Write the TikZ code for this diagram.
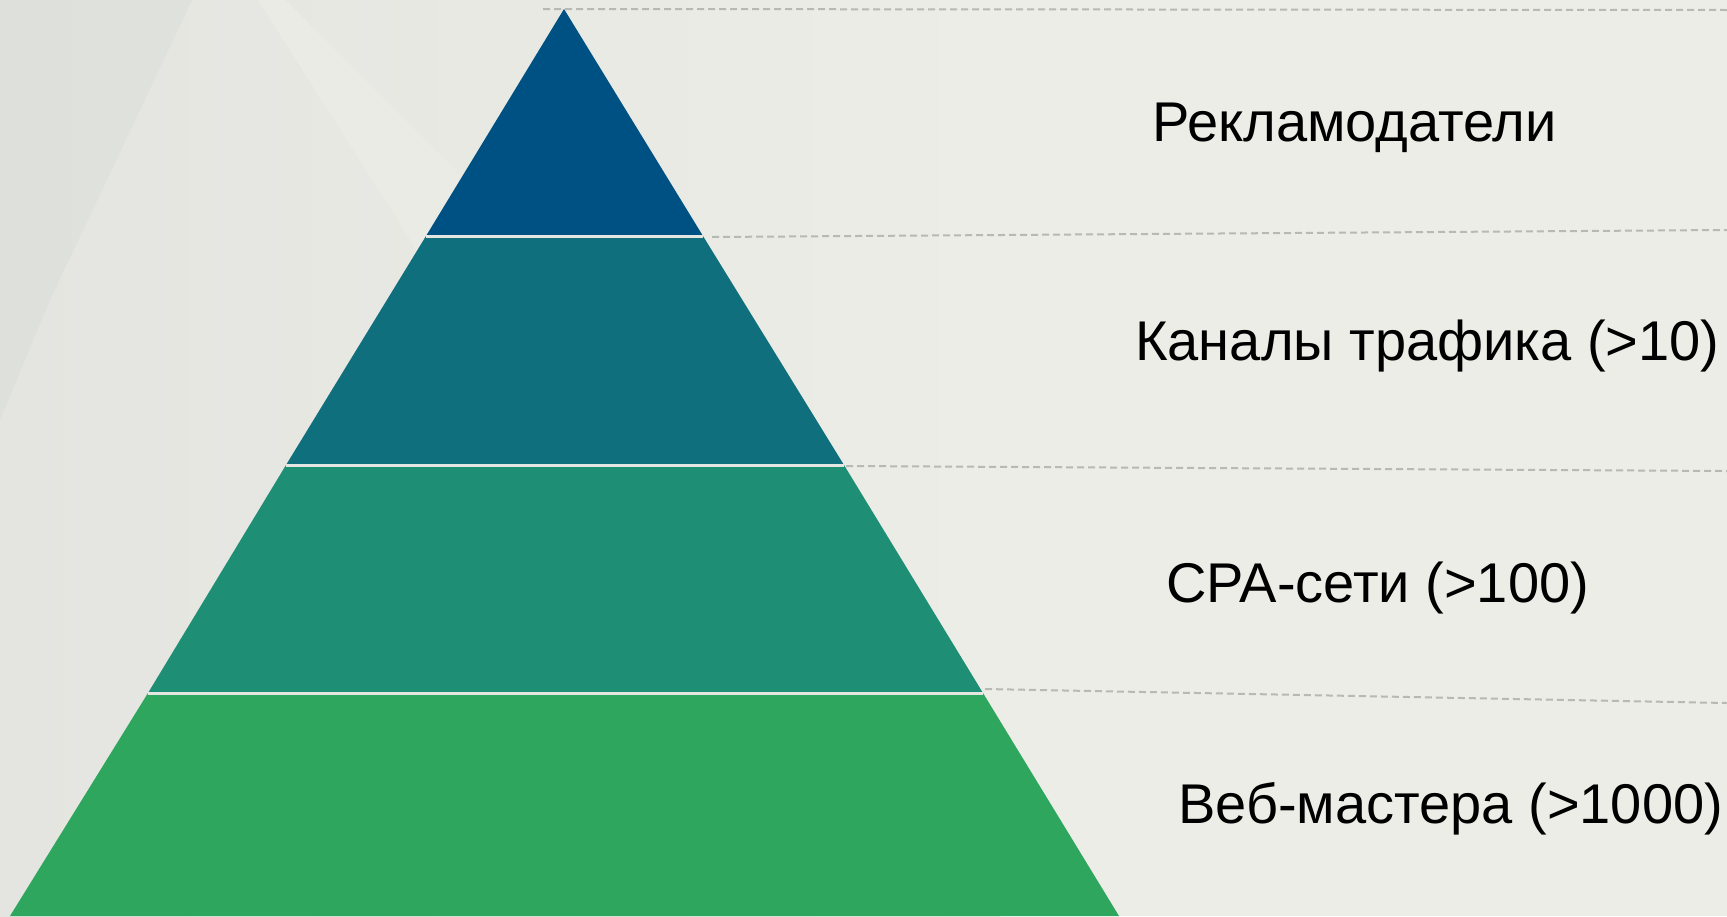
\documentclass[tikz,border=0pt]{standalone}
\usepackage{fontspec}
\setmainfont{Liberation Sans}
\definecolor{bgright}{HTML}{EDEDE7}
\definecolor{bgmid}{HTML}{E4E5E0}
\definecolor{bgleft}{HTML}{DCDFDA}
\definecolor{streak}{HTML}{ECECE6}
\definecolor{lvA}{HTML}{005183}
\definecolor{lvB}{HTML}{106F7C}
\definecolor{lvC}{HTML}{1E8E74}
\definecolor{lvD}{HTML}{2EA65E}
\definecolor{dashgray}{HTML}{B8B8B4}
\definecolor{sepline}{HTML}{E4E6E2}
\tikzset{
  levellabel/.style={anchor=base west, inner sep=0pt, font=\fontsize{56}{66}\selectfont, text=black},
  guideline/.style={draw=dashgray, line width=2pt, dash pattern=on 7pt off 4pt},
  separator/.style={draw=sepline, line width=3pt},
}
\begin{document}
\begin{tikzpicture}[x=1pt,y=-1pt]
\useasboundingbox (0,0) rectangle (1727,916);
% background
\fill[bgright] (0,0) rectangle (1727,916);
\shade[left color=bgmid, right color=bgright, shading angle=90] (0,0) rectangle (1000,916);
\fill[bgleft, opacity=0.7] (0,0) -- (192,0) -- (50,300) -- (0,420) -- cycle;
\fill[streak, opacity=0.9] (258,0) -- (285,0) -- (470,185) -- (470,330) -- (420,255) -- cycle;
% pyramid levels
\fill[lvA] (564,9) -- (703,236) -- (426,236) -- cycle;
\fill[lvB] (426,236) -- (703,236) -- (844,465) -- (286,465) -- cycle;
\fill[lvC] (286,465) -- (844,465) -- (983,693) -- (148,693) -- cycle;
\fill[lvD] (148,693) -- (983,693) -- (1119,916) -- (10,916) -- cycle;
\draw[separator] (426,236) -- (703,236);
\draw[separator] (286,465) -- (844,465);
\draw[separator] (148,693) -- (983,693);
% dashed guide lines
\coordinate (g1a) at (543,9);  \coordinate (g1b) at (1727,10);
\coordinate (g2a) at (712,237); \coordinate (g2b) at (1727,230);
\coordinate (g3a) at (846,466); \coordinate (g3b) at (1727,471);
\coordinate (g4a) at (985,689); \coordinate (g4b) at (1727,703);
\draw[guideline] (g1a) -- (g1b);
\draw[guideline] (g2a) -- (g2b);
\draw[guideline] (g3a) -- (g3b);
\draw[guideline] (g4a) -- (g4b);
% labels
\node[levellabel] (l1) at (1152,141) {Рекламодатели};
\node[levellabel] (l2) at (1135,360) {Каналы трафика (>10)};
\node[levellabel] (l3) at (1166,602) {CPA-сети (>100)};
\node[levellabel] (l4) at (1178,823) {Веб-мастера (>1000)};
\end{tikzpicture}
\end{document}
